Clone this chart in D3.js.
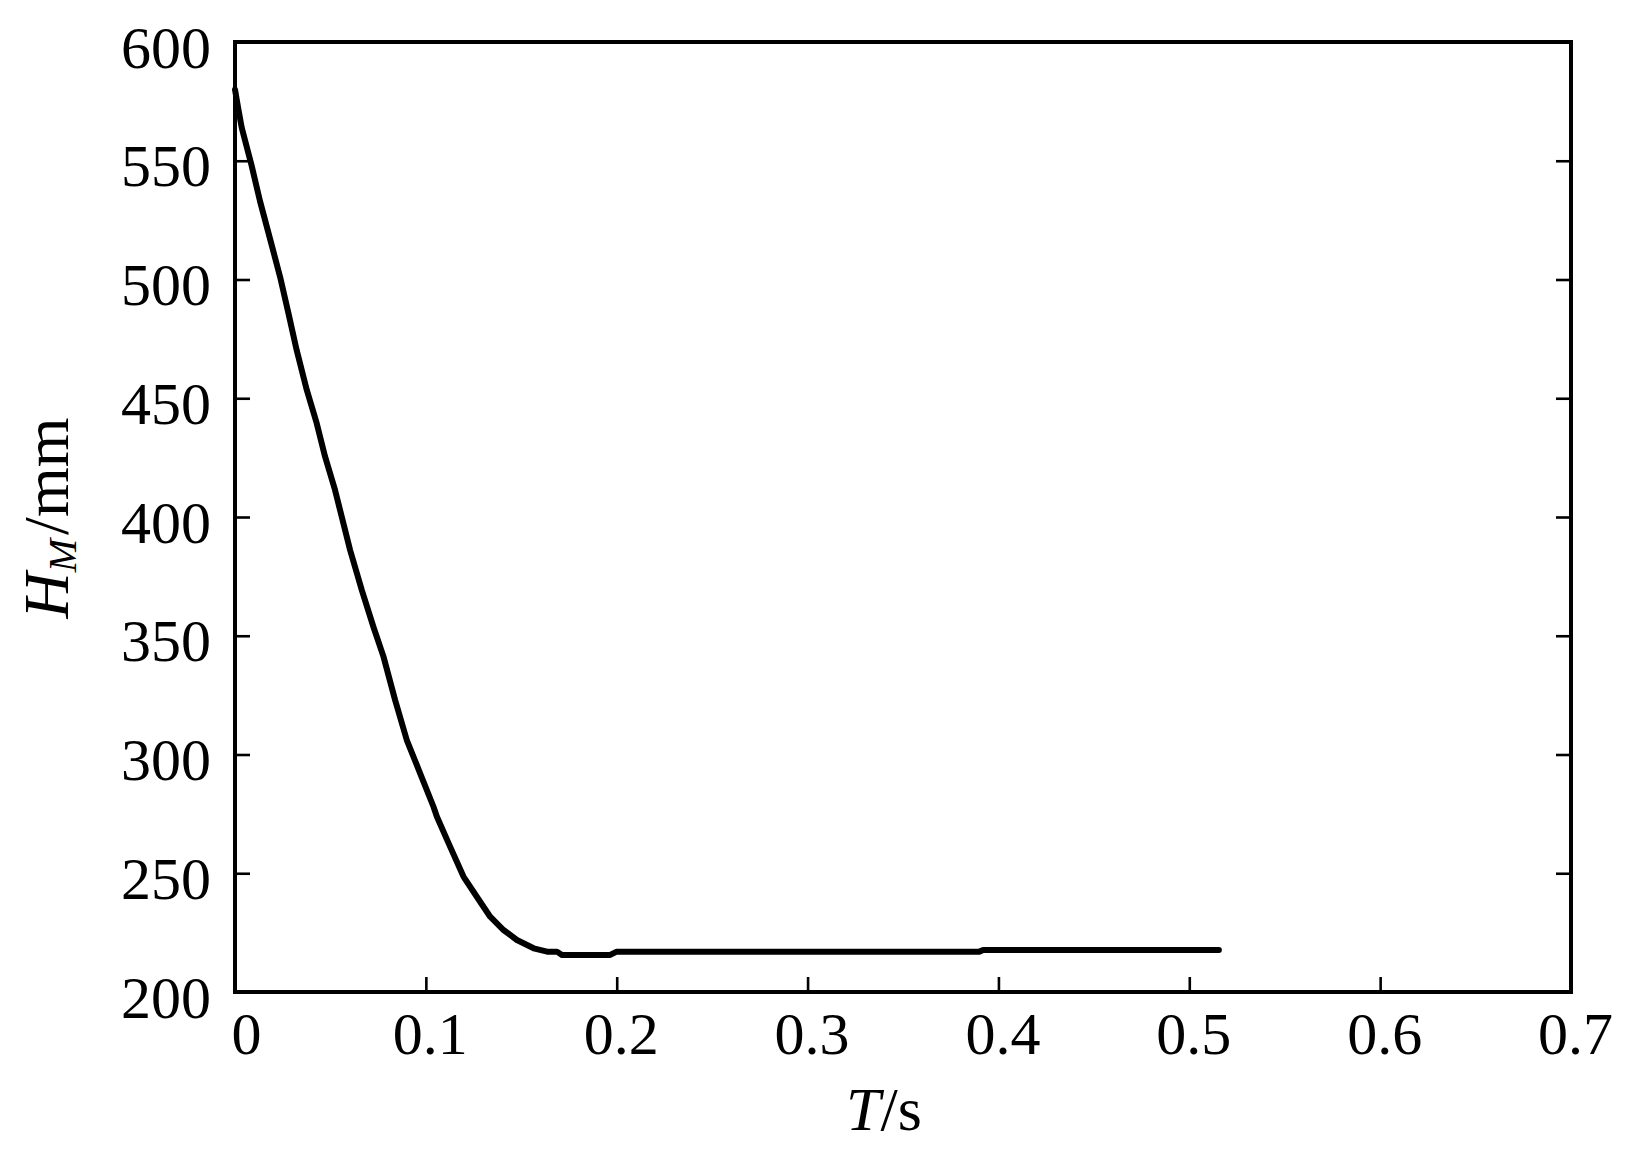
<html>
<script src="https://d3js.org/d3.v7.min.js"></script>
<style>
body {margin: 0; background: white;}
text {font-family: "Liberation Serif", "Times New Roman", serif; fill: black;}
</style>
<body>
<svg width=1626 height=1157></svg>
<script>
// curve
var T = [0, 0.0017, 0.0035, 0.0087, 0.0131, 0.0184, 0.0236, 0.028, 0.0323, 0.0376,
         0.0428, 0.0472, 0.0524, 0.0603, 0.0664, 0.0725, 0.0778, 0.0839, 0.09, 0.097,
         0.104, 0.1058, 0.1127, 0.1197, 0.1267, 0.1337, 0.1407, 0.1477, 0.1565, 0.1635,
         0.1687, 0.1713, 0.1966, 0.2, 0.39, 0.392, 0.5155];
var H = [580, 572, 564, 548, 533, 517, 501.2, 485.8, 470.3, 453.5,
         439.5, 425.4, 411.4, 386.1, 369.3, 353.8, 341.2, 322.9, 306.1, 292.1,
         278, 273.8, 261.2, 248.6, 240.1, 231.7, 226.1, 221.9, 218.4, 217,
         217, 215.6, 215.6, 217, 217, 217.7, 217.7];
var xTicks = [0, 0.1, 0.2, 0.3, 0.4, 0.5, 0.6, 0.7];
var yTicks = [200, 250, 300, 350, 400, 450, 500, 550, 600];

var mLeft = 235, mTop = 42, width = 1336, height = 950;
var svg = d3.select("svg");

var x = d3.scaleLinear().domain([0, 0.7]).range([mLeft, mLeft + width]);
var y = d3.scaleLinear().domain([200, 600]).range([mTop + height, mTop]);

// left axis with labels
var gl = svg.append("g")
  .attr("transform", "translate(" + mLeft + ",0)")
  .call(d3.axisLeft(y).tickValues(yTicks).tickSizeInner(-15).tickSizeOuter(0).tickPadding(24));
gl.selectAll("text").attr("dy", "0.42em");

// right axis, ticks only
var gr = svg.append("g")
  .attr("transform", "translate(" + (mLeft + width) + ",0)")
  .call(d3.axisRight(y).tickValues(yTicks).tickSizeInner(-15).tickSizeOuter(0).tickFormat(""));

// bottom axis
var gb = svg.append("g")
  .attr("transform", "translate(0," + (mTop + height) + ")")
  .call(d3.axisBottom(x).tickValues(xTicks).tickSizeInner(-15).tickSizeOuter(0).tickPadding(19)
        .tickFormat(function(d) { return d === 0 ? "0" : d3.format(".1f")(d); }));
gb.selectAll("text").attr("dx", function(d) { return d === 0 ? 11 : 4; });

svg.selectAll(".domain").remove();
svg.selectAll(".tick line").attr("stroke", "black").attr("stroke-width", 2.6);
svg.selectAll(".tick text").style("font-size", "60px").attr("fill", "black");

// frame
svg.append("rect")
  .attr("x", mLeft).attr("y", mTop).attr("width", width).attr("height", height)
  .attr("fill", "none").attr("stroke", "black").attr("stroke-width", 4);

// curve
var line = d3.line()
  .x(function(d, i) { return x(T[i]); })
  .y(function(d, i) { return y(H[i]); });
svg.append("path")
  .datum(T)
  .attr("d", line)
  .attr("fill", "none")
  .attr("stroke", "black")
  .attr("stroke-width", 6)
  .attr("stroke-linejoin", "round")
  .attr("stroke-linecap", "round");

// x axis label
var xl = svg.append("text")
  .attr("x", 884).attr("y", 1130)
  .attr("text-anchor", "middle")
  .style("font-size", "62px");
xl.append("tspan").style("font-style", "italic").text("T");
xl.append("tspan").text("/s");

// y axis label
var yl = svg.append("text")
  .attr("transform", "translate(68,518) rotate(-90)")
  .attr("text-anchor", "middle")
  .style("font-size", "64px");
yl.append("tspan").style("font-style", "italic").text("H");
yl.append("tspan").style("font-style", "italic").style("font-size", "40px").attr("dy", 8).text("M");
yl.append("tspan").attr("dy", -8).attr("dx", 4).text("/mm");
</script>
</body>
</html>
